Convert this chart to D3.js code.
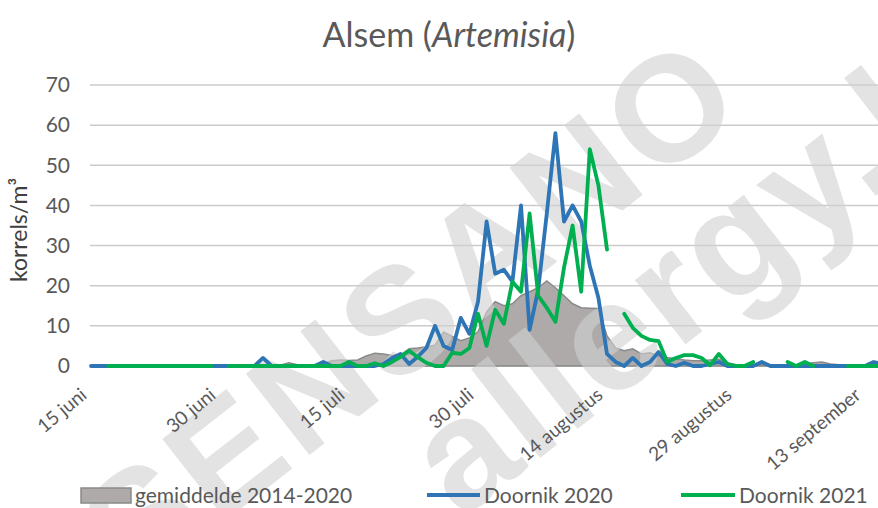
<!DOCTYPE html>
<html>
<head>
<meta charset="utf-8">
<script src="https://cdn.jsdelivr.net/npm/d3@7"></script>
<style>
  body { margin: 0; background: #fff; }
  svg { display: block; font-family: Lato, "Open Sans", sans-serif; }
</style>
</head>
<body>
<div id="chart"></div>
<script>
// categories: one point per day, 15 juni .. 15 september
var tickLabels = ["15 juni", "30 juni", "15 juli", "30 juli", "14 augustus", "29 augustus", "13 september"];
var tickIdx = [0, 15, 30, 45, 60, 75, 90];

// gemiddelde 2014-2020 (area)
var avg = [0,0,0,0,0,0,0,0,0,0, 0,0,0,0,0,0,0,0,0,0,
  0.2,0,0.2,0.8,0.3,0.1,0.3,0.6,1.3,1.5,
  1.4,1.5,2.5,3.2,3,2.6,2.8,4.3,4.5,4.8,
  5.2,8.5,7.4,6.3,7,8.5,13.5,16,15,15.5,
  17.5,18.5,19.5,21.2,19.5,17.5,15.5,14.5,14.4,14.3,
  7.5,4.5,3.8,4.3,3,3.3,2.5,2.1,1.8,1.5,
  1.3,1.3,1.5,1.7,0.8,0.3,0.2,0.2,0.3,0.2,
  0.2,0.3,0.3,0.5,0.8,1,0.5,0.3,0.2,0.2,
  0.2,0.3,0.3];

// Doornik 2020
var d2020 = [0,0,0,0,0,0,0,0,0,0, 0,0,0,0,0,0,0,0,0,0,
  2,0,0,0,0,0,0,1,0,0,
  0,0,0,0,0.5,2,3,0.5,2.3,4.5,
  10,5,4,12,8,16,36,23,24,21,
  40,9,19,38,58,36,40,36,25,17,
  3,1,0,2,0,1,3.5,0.5,0,0.8,
  0,0,0.5,1,0,0,0,0,1,0,
  0,0,0,0,0,0,0,0,0,0,
  0,1,0.5];

// Doornik 2021 (null = geen meting)
var d2021 = [null,null,0,0,0,0,0,0,0,0, 0,0,0,0,0,null,0,0,0,0,
  0,0,0,0,0,0,0,0,0,0,
  1,0,0,0.7,0,1,2.3,3.8,2.2,0.8,
  0,0,3.3,3,4.5,13,5,14,10.5,21,
  18.5,38,17.5,14.5,11,24.5,35,18.5,54,45,
  29,null,13,9.5,7.5,6.5,6.2,1,2,2.7,
  2.7,2,0.2,3,0.5,0,0,1,null,null,
  null,1,0,1,0,null,null,null,0,0,
  0,0,0];

var yTicks = [0, 10, 20, 30, 40, 50, 60, 70];

var W = 878, H = 508;
var svg = d3.select("#chart").append("svg").attr("width", W).attr("height", H);

var x = d3.scaleLinear().domain([0, 92]).range([91, 91 + 92 * 8.6]);
var y = d3.scaleLinear().domain([0, 70]).range([366, 85]);

// title
var title = svg.append("text").attr("x", 449).attr("y", 47)
  .attr("text-anchor", "middle").attr("font-size", 34).attr("fill", "#595959");
title.append("tspan").text("Alsem (");
title.append("tspan").attr("font-style", "italic").text("Artemisia");
title.append("tspan").text(")");

// gridlines
svg.append("g").selectAll("line").data(yTicks).enter().append("line")
  .attr("x1", 90).attr("x2", W)
  .attr("y1", d => y(d)).attr("y2", d => y(d))
  .attr("stroke", "#cbcbcb").attr("stroke-width", 1.5);

// y axis labels
var yAxis = svg.append("g").attr("transform", "translate(78,0)")
  .call(d3.axisLeft(y).tickValues(yTicks).tickSize(0).tickPadding(8));
yAxis.select(".domain").remove();
yAxis.selectAll("text").attr("font-size", 21).attr("fill", "#595959")
  .style("font-family", "Lato, sans-serif");

svg.append("text").attr("transform", "translate(27,230) rotate(-90)")
  .attr("text-anchor", "middle").attr("font-size", 23).attr("fill", "#404040")
  .text("korrels/m³");

// area
var area = d3.area().x((d, i) => x(i)).y0(y(0)).y1(d => y(d));
svg.append("path").datum(avg).attr("d", area)
  .attr("fill", "#aeaaaa").attr("stroke", "#8a8a8a").attr("stroke-width", 1.5);

// watermark
var wm = svg.append("g").attr("fill", "#d2d2d2").attr("opacity", 0.6)
  .style("font-family", "Liberation Sans, Arial, sans-serif").attr("font-weight", "bold");
wm.append("text").attr("transform", "translate(410,308) rotate(-38)")
  .attr("text-anchor", "middle").attr("y", 54).attr("font-size", 150)
  .attr("letter-spacing", 6).text("SENSANO");
wm.append("text").attr("transform", "translate(470,462) rotate(-38)")
  .attr("x", -43).attr("y", 40).attr("font-size", 155)
  .attr("letter-spacing", 4).text("allergy.be");

// lines
function drawLine(data, color) {
  var line = d3.line().defined(d => d !== null).x((d, i) => x(i)).y(d => y(d));
  svg.append("path").datum(data).attr("d", line)
    .attr("fill", "none").attr("stroke", color).attr("stroke-width", 3.8)
    .attr("stroke-linejoin", "round").attr("stroke-linecap", "round");
}
drawLine(d2020, "#2e75b6");
drawLine(d2021, "#00b050");

// x axis labels
var xAxis = svg.append("g")
  .call(d3.axisBottom(x).tickValues(tickIdx).tickSize(0)
    .tickFormat((d, i) => tickLabels[i]));
xAxis.select(".domain").remove();
xAxis.selectAll(".tick").attr("transform", d => "translate(" + x(d) + ",0)");
xAxis.selectAll(".tick text").attr("font-size", 19).attr("fill", "#595959")
  .style("font-family", "Lato, sans-serif")
  .attr("text-anchor", "end").attr("dy", 0).attr("x", 0).attr("y", 0)
  .attr("transform", "translate(-3,397) rotate(-40)");

// legend
var leg = svg.append("g").attr("font-size", 21).attr("fill", "#595959");
leg.append("rect").attr("x", 81).attr("y", 488).attr("width", 50).attr("height", 15)
  .attr("fill", "#aeaaaa").attr("stroke", "#8a8a8a").attr("stroke-width", 1.5);
leg.append("text").attr("x", 135).attr("y", 503).text("gemiddelde 2014-2020");
leg.append("line").attr("x1", 427).attr("x2", 480).attr("y1", 495).attr("y2", 495)
  .attr("stroke", "#2e75b6").attr("stroke-width", 3.8);
leg.append("text").attr("x", 484).attr("y", 503).text("Doornik 2020");
leg.append("line").attr("x1", 681).attr("x2", 735).attr("y1", 495).attr("y2", 495)
  .attr("stroke", "#00b050").attr("stroke-width", 3.8);
leg.append("text").attr("x", 739).attr("y", 503).text("Doornik 2021");
</script>
</body>
</html>
